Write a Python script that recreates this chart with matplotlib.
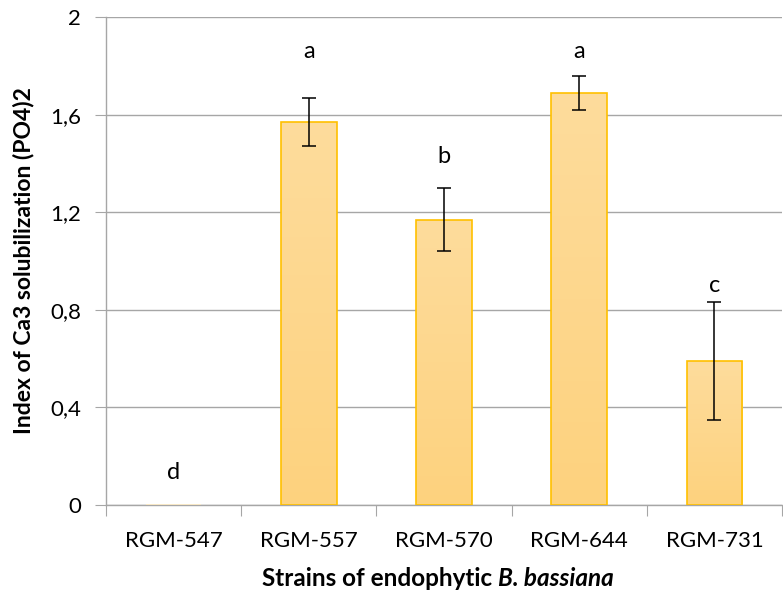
import numpy as np
import matplotlib
matplotlib.use("Agg")
import matplotlib.pyplot as plt
from matplotlib.ticker import FixedLocator, NullFormatter

plt.rcParams['font.family'] = ['Lato', 'DejaVu Sans']

# data
strains = ["RGM-547", "RGM-557", "RGM-570", "RGM-644", "RGM-731"]
index_vals = [0.0, 1.57, 1.17, 1.69, 0.59]
index_err = [0.0, 0.10, 0.13, 0.07, 0.24]
letters = ["d", "a", "b", "a", "c"]
letter_y = [0.135, 1.86, 1.43, 1.86, 0.90]
y_ticks = [0, 0.4, 0.8, 1.2, 1.6, 2.0]
y_ticklabels = ["0", "0,4", "0,8", "1,2", "1,6", "2"]

fig = plt.figure(figsize=(7.83, 5.95), dpi=100)
ax = fig.add_axes([106 / 783, 90 / 595, 676 / 783, 488 / 595])

x = np.arange(len(strains))
width = 0.41

# gradient bars
grad = np.linspace(0, 1, 256).reshape(-1, 1)
cmap = matplotlib.colors.LinearSegmentedColormap.from_list(
    "bar", ["#fdd27e", "#fedc9c"])
bars = ax.bar(x, index_vals, width, color="none", edgecolor="#ffc000",
              linewidth=1.2, zorder=3)
for b in bars:
    h = b.get_height()
    if h <= 0:
        b.set_edgecolor("#fde9c0")
        continue
    x0 = b.get_x()
    im = ax.imshow(grad, extent=[x0, x0 + width, 0, h], origin="lower",
                   cmap=cmap, aspect="auto", zorder=2)
    im.set_clip_path(b)
ax.set_xlim(-0.5, len(strains) - 0.5)
ax.set_ylim(0, 2)

# skip error bars for the zero bar
has_err = [e > 0 for e in index_err]
ax.errorbar(x[has_err], np.array(index_vals)[has_err],
            yerr=np.array(index_err)[has_err], fmt="none", ecolor="black",
            elinewidth=1.1, capsize=5, capthick=1.1, zorder=4)

for xi, lab, ly in zip(x, letters, letter_y):
    ax.text(xi, ly, lab, ha="center", va="center", fontsize=17, zorder=5)

# axes styling
ax.set_yticks(y_ticks)
ax.set_yticklabels(y_ticklabels, fontsize=16)
ax.yaxis.grid(True, color="#a6a6a6", linewidth=1)
ax.set_axisbelow(True)
ax.tick_params(axis="y", length=8, color="#a6a6a6", pad=10)

ax.xaxis.set_major_locator(FixedLocator(np.arange(-0.5, len(strains), 1)))
ax.xaxis.set_major_formatter(NullFormatter())
ax.xaxis.set_minor_locator(FixedLocator(x))
ax.set_xticklabels(strains, minor=True, fontsize=16)
ax.tick_params(axis="x", which="major", length=8, color="#a6a6a6")
ax.tick_params(axis="x", which="minor", length=0, pad=19)

for s in ["top", "right"]:
    ax.spines[s].set_visible(False)
for s in ["left", "bottom"]:
    ax.spines[s].set_color("#a6a6a6")
    ax.spines[s].set_linewidth(1)

ax.set_ylabel("Index of Ca3 solubilization (PO4)2", fontsize=16.5,
              fontweight="bold", labelpad=11)

t1 = fig.text(262 / 783, 9 / 595, "Strains of endophytic ", fontsize=17.5,
              fontweight="bold", ha="left", va="baseline")
ax.annotate("B. bassiana", xy=(1, 0), xycoords=t1, fontsize=17.5,
            fontweight="bold", fontstyle="italic", ha="left", va="bottom")

fig.savefig("out.png", dpi=100)
